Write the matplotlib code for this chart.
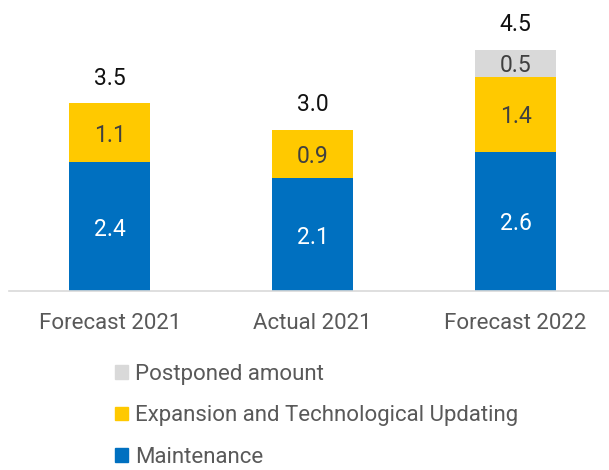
import matplotlib
matplotlib.use("Agg")
import matplotlib.pyplot as plt
from matplotlib.patches import Patch

# ---- data ----
categories = ["Forecast 2021", "Actual 2021", "Forecast 2022"]
maintenance = [2.4, 2.1, 2.6]
expansion = [1.1, 0.9, 1.4]
postponed = [0.0, 0.0, 0.5]
totals = [3.5, 3.0, 4.5]
series_names = ["Maintenance", "Expansion and Technological Updating", "Postponed amount"]

# ---- style ----
BLUE = "#0070C0"
YELLOW = "#FFC900"
GREY = "#D9D9D9"
TXT = "#595959"
plt.rcParams["font.family"] = ["Roboto", "DejaVu Sans"]

W, H = 609, 470
fig = plt.figure(figsize=(W / 100, H / 100), dpi=100)
ax = fig.add_axes([8.5 / W, 179 / H, 608.5 / W, 268 / H])

x = list(range(len(categories)))
width = 0.4
b1 = ax.bar(x, maintenance, width, color=BLUE, label=series_names[0])
b2 = ax.bar(x, expansion, width, bottom=maintenance, color=YELLOW, label=series_names[1])
bottom3 = [m + e for m, e in zip(maintenance, expansion)]
b3 = ax.bar(x, postponed, width, bottom=bottom3, color=GREY, label=series_names[2])

ax.set_xlim(-0.5, 2.5)
ax.set_ylim(0, 5)

# segment labels
for bars, vals, bots, col in [
    (b1, maintenance, [0, 0, 0], "white"),
    (b2, expansion, maintenance, "#404040"),
    (b3, postponed, bottom3, "#404040"),
]:
    for xi, v, b in zip(x, vals, bots):
        if v > 0:
            ax.text(xi, b + v / 2, f"{v:.1f}", ha="center", va="center_baseline",
                    color=col, fontsize=16.5)

# totals
for xi, t in zip(x, totals):
    ax.annotate(f"{t:.1f}", xy=(xi, t), xytext=(0, 10), textcoords="offset points",
                ha="center", va="bottom", color="#111111", fontsize=16.5)

for s in ["top", "left", "right"]:
    ax.spines[s].set_visible(False)
ax.spines["bottom"].set_color(GREY)
ax.spines["bottom"].set_linewidth(1.2)
ax.set_yticks([])
ax.set_xticks(x)
ax.set_xticklabels(categories, fontsize=16, color=TXT)
ax.tick_params(axis="x", length=0, pad=16)

handles = [Patch(color=GREY), Patch(color=YELLOW), Patch(color=BLUE)]
labels = [series_names[2], series_names[1], series_names[0]]
fig.legend(handles, labels, loc="upper left", bbox_to_anchor=(115 / W, 106 / H),
           frameon=False, fontsize=16, labelcolor=TXT, borderpad=0, borderaxespad=0,
           handlelength=0.57, handleheight=0.57, handletextpad=0.32, labelspacing=0.92)

fig.savefig("out.png", dpi=100)
